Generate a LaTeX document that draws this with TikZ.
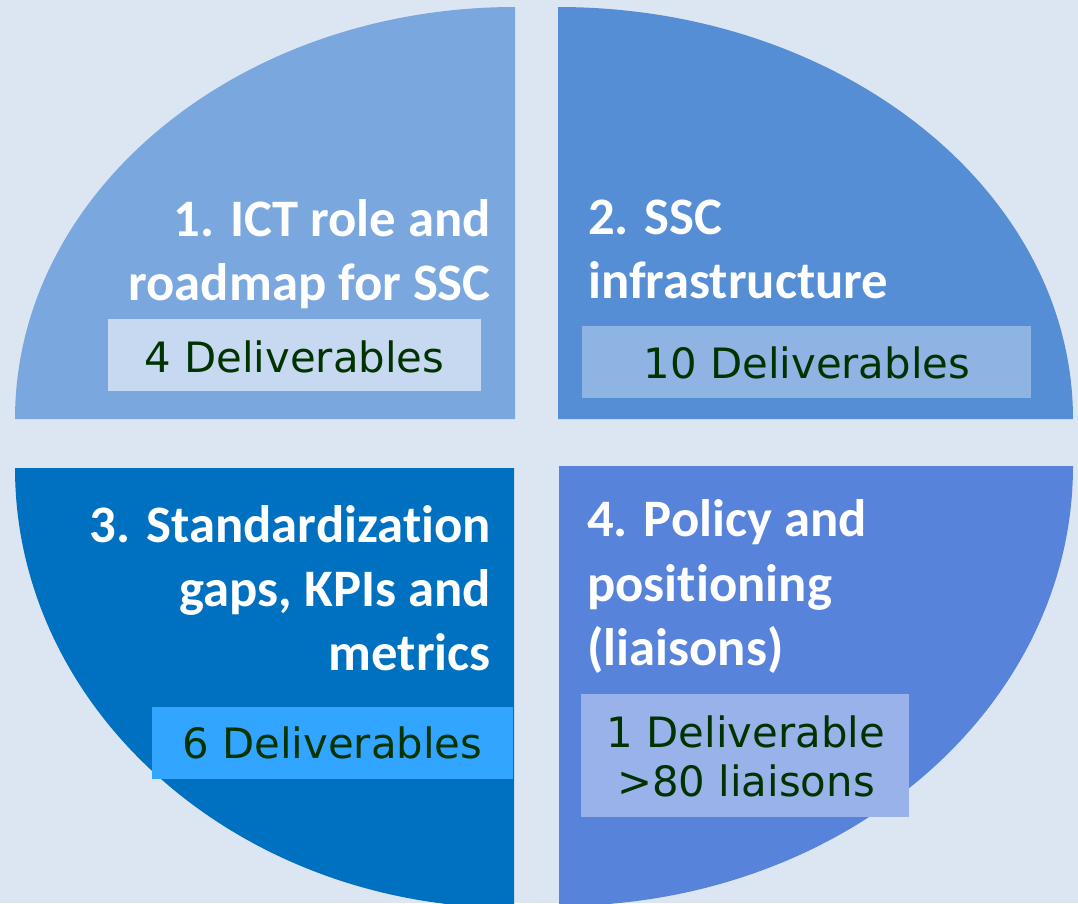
\documentclass[tikz,border=0pt]{standalone}
\usepackage{fontspec}
\setmainfont{Carlito}[Ligatures=NoCommon]
\newfontfamily\boxfont{DejaVu Sans}
\definecolor{bg}{HTML}{DCE6F2}
\definecolor{qone}{HTML}{7BA7DF}
\definecolor{qtwo}{HTML}{558ED5}
\definecolor{qthree}{HTML}{0070C0}
\definecolor{qfour}{HTML}{5883DA}
\definecolor{bone}{HTML}{C6D9F1}
\definecolor{btwo}{HTML}{8EB4E3}
\definecolor{bthree}{HTML}{31A5FF}
\definecolor{bfour}{HTML}{99B3EA}
\definecolor{dgreen}{HTML}{003300}
\tikzset{
  title/.style={text=white, inner sep=0pt, font=\fontsize{52.7}{65}\selectfont\bfseries},
  boxtext/.style={text=dgreen, inner sep=0pt, font=\boxfont\fontsize{41.8}{49}\selectfont},
}
\begin{document}
\begin{tikzpicture}[x=1pt,y=-1pt]
\useasboundingbox (0,0) rectangle (1078,903);
\clip (0,0) rectangle (1078,903);
\fill[bg] (0,0) rectangle (1078,903);
% quadrants
\fill[qone] (515,419) -- (15,419) arc[start angle=180, end angle=90, x radius=500pt, y radius=412pt] -- cycle;
\fill[qtwo] (558,419) -- (558,7) arc[start angle=90, end angle=0, x radius=515pt, y radius=412pt] -- cycle;
\fill[qthree] (514,468) -- (15,468) arc[start angle=180, end angle=270, x radius=499pt, y radius=440pt] -- cycle;
\fill[qfour] (559,466) -- (1073,466) arc[start angle=0, end angle=-90, x radius=514pt, y radius=440pt] -- cycle;
% boxes
\fill[bone] (108,319) rectangle (481,391);
\fill[btwo] (582,326) rectangle (1031,398);
\fill[bthree] (152,707) rectangle (513,779);
\fill[bfour] (581,694) rectangle (909,817);
% titles
\node[title, anchor=base east] (t1a) at (491,236) {1. ICT role and};
\node[title, anchor=base east] (t1b) at (491,300) {roadmap for SSC};
\node[title, anchor=base west] (t2a) at (588,234) {2. SSC};
\node[title, anchor=base west] (t2b) at (588,298) {infrastructure};
\node[title, anchor=base east] (t3a) at (491,542) {3. Standardization};
\node[title, anchor=base east] (t3b) at (491,606) {gaps, KPIs and};
\node[title, anchor=base east] (t3c) at (491,670) {metrics};
\node[title, anchor=base west] (t4a) at (587,536) {4. Policy and};
\node[title, anchor=base west] (t4b) at (587,601) {positioning};
\node[title, anchor=base west] (t4c) at (587,665) {(liaisons)};
% box texts
\node[boxtext, anchor=base] (d1) at (294.5,372) {4 Deliverables};
\node[boxtext, anchor=base] (d2) at (807,378) {10 Deliverables};
\node[boxtext, anchor=base] (d3) at (332.5,758) {6 Deliverables};
\node[boxtext, anchor=base] (d4a) at (746,747) {1 Deliverable};
\node[boxtext, anchor=base] (d4b) at (746,796) {>80 liaisons};
\end{tikzpicture}
\end{document}
